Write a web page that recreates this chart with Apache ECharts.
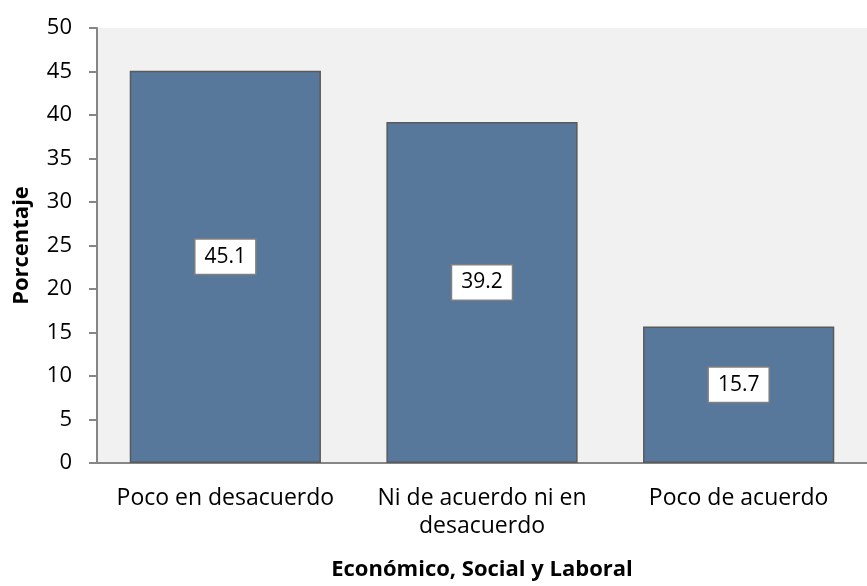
<!DOCTYPE html>
<html>
<head>
<meta charset="utf-8">
<script src="https://cdn.jsdelivr.net/npm/echarts@6/dist/echarts.min.js"></script>
<style>
  html, body { margin: 0; padding: 0; background: #fff; }
  #main { width: 867px; height: 586px; }
</style>
</head>
<body>
<div id="main"></div>
<script>
var categories = ['Poco en desacuerdo', 'Ni de acuerdo ni en\ndesacuerdo', 'Poco de acuerdo'];
var valores = [45.1, 39.2, 15.7];

var myChart = echarts.init(document.getElementById('main'));
var fuente = '"Open Sans", "Liberation Sans", sans-serif';

var option = {
  animation: false,
  textStyle: { fontFamily: fuente },
  grid: {
    left: 97, right: 0, top: 28, bottom: 121,
    show: true,
    backgroundColor: '#f1f1f1',
    borderWidth: 0
  },
  xAxis: {
    type: 'category',
    data: categories,
    name: 'Económico, Social y Laboral',
    nameLocation: 'middle',
    nameGap: 96,
    nameTextStyle: { fontSize: 22, fontWeight: 'bold', color: '#000', fontFamily: fuente },
    axisLine: { lineStyle: { color: '#868686', width: 2 } },
    axisTick: { show: false },
    axisLabel: {
      interval: 0, hideOverlap: false,
      color: '#000', fontSize: 23, margin: 21, lineHeight: 28, fontFamily: fuente
    }
  },
  yAxis: {
    type: 'value',
    min: 0, max: 50, interval: 5,
    name: 'Porcentaje',
    nameLocation: 'middle',
    nameGap: 64,
    nameTextStyle: { fontSize: 22, fontWeight: 'bold', color: '#000', fontFamily: fuente },
    axisLine: { show: true, lineStyle: { color: '#868686', width: 2 } },
    axisTick: { show: true, length: 8, lineStyle: { color: '#868686', width: 2 } },
    axisLabel: { color: '#000', fontSize: 22, margin: 25, fontFamily: fuente },
    splitLine: { show: false }
  },
  series: [{
    type: 'bar',
    data: valores,
    barWidth: '74.5%',
    itemStyle: { color: '#57779b', borderColor: '#5a5a5a', borderWidth: 1.5 },
    label: {
      show: true,
      position: 'inside',
      offset: [0, -10],
      color: '#000',
      fontSize: 21,
      fontFamily: fuente,
      backgroundColor: '#fff',
      borderColor: '#808080',
      borderWidth: 1.5,
      padding: [7, 9, 6, 9],
      formatter: function (p) { return p.value.toFixed(1); }
    }
  }]
};
option && myChart.setOption(option);
</script>
</body>
</html>
